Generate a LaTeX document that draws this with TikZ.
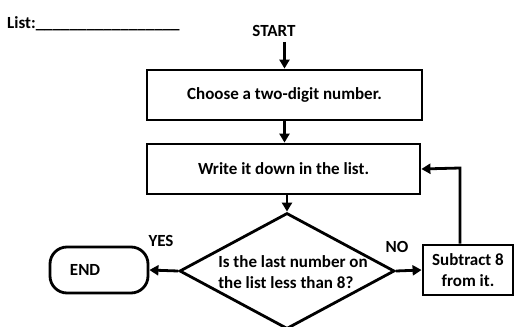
\documentclass[tikz,border=0pt]{standalone}
\usepackage{fontspec}
\setmainfont{Carlito}
\usetikzlibrary{shapes.geometric}
\usetikzlibrary{arrows.meta}

\begin{document}
\begin{tikzpicture}[x=1pt,y=-1pt,
    every node/.style={font=\bfseries\fontsize{17}{21}\selectfont},
    process/.style={draw, line width=2.8pt, rectangle, inner sep=0pt},
    decision/.style={draw, line width=2.8pt, diamond, inner sep=0pt, minimum width=215pt, minimum height=116pt},
    terminal/.style={draw, line width=2.8pt, rectangle, rounded corners=17pt, inner sep=0pt},
    flow/.style={line width=2.8pt, -{Triangle[length=9pt,width=10pt]}}]
                \useasboundingbox (0,0) rectangle (515,327);

                % List heading
                \node[anchor=west, inner sep=0pt] (list) at (7,24) {List:\_\_\_\_\_\_\_\_\_\_\_\_\_\_\_\_\_};

                % Boxes
                \node[inner sep=0pt] (start) at (274,31) {START};
                \node[process, minimum width=275pt, minimum height=50pt] (choose) at (284.5,95) {Choose a two-digit number.};
                \node[process, minimum width=273pt, minimum height=50pt] (write) at (283.5,169) {Write it down in the list.};
                \node[decision] (test) at (287,271) {};
                \node[align=left, inner sep=0pt] (question) at (293,272) {Is the last number on\\the list less than 8?};
                \node[process, minimum width=90pt, minimum height=50pt, align=center] (subtract) at (468,270) {Subtract 8\\from it.};
                \node[terminal, minimum width=98pt, minimum height=46pt, text width=58pt, inner xsep=20pt, align=left] (finish) at (99,270) {END};

                % Answers
                \node (yes) at (161,241) {YES};
                \node (no) at (397,247) {NO};

                % Connectors
                \coordinate (loop) at (460,168);
                \draw[flow] (start.south -| choose.north) ++(0,5) -- (choose.north);
                \draw[flow] (choose.south) -- (choose.south |- write.north);
                \draw[flow] (write.south -| test.north) -- (test.north);
                \draw[flow] (test.west) -- (finish.east);
                \draw[flow] (test.east) -- (subtract.west);
                \draw[flow] (subtract.north -| loop) -- (loop) -- (write.east);
            \end{tikzpicture}
\end{document}
